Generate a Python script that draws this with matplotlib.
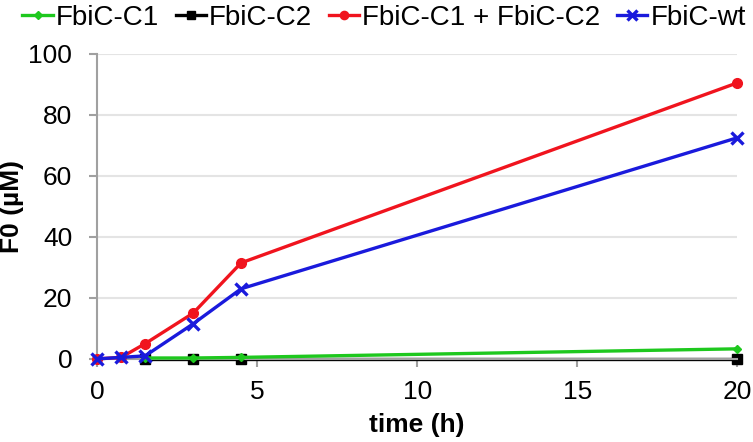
import matplotlib.pyplot as plt

plt.rcParams['font.family'] = ['Liberation Sans', 'DejaVu Sans']

# time points (h)
time = [0, 0.75, 1.5, 3, 4.5, 20]

# F0 (uM) for each construct
c1 = [0, 0, 0.3, 0.3, 0.5, 3.3]
c2 = [0, 0, 0, 0, 0, 0]
c1_c2 = [0, 0.5, 5, 15, 31.5, 90.5]
wt = [0, 0.5, 1, 11.5, 23, 72.5]

labels = ['FbiC-C1', 'FbiC-C2', 'FbiC-C1 + FbiC-C2', 'FbiC-wt']

fig = plt.figure(figsize=(7.53, 4.42), dpi=100)
ax = fig.add_axes([0.129, 0.188, 0.85, 0.69])

# light horizontal grid behind the data
ax.grid(axis='y', color='#e4e4e4', lw=1.5)
ax.set_axisbelow(True)

# plot each series
ax.plot(time[2:], c1[2:], color='#1ec81e', marker='D', markersize=4.5, lw=2.4, label=labels[0], zorder=3)
ax.plot(time[2:], c2[2:], color='black', marker='s', markersize=7, lw=2.4, label=labels[1], zorder=2)
ax.plot(time, c1_c2, color='#f0141e', marker='o', markersize=7, lw=2.4, label=labels[2], zorder=4)
ax.plot(time, wt, color='#1a1adc', marker='x', markersize=8.5, mew=2.4, lw=2.4, label=labels[3], zorder=5)

ax.set_xlim(0, 20)
ax.set_ylim(0, 100)
ax.set_xticks([0, 5, 10, 15, 20])
ax.set_yticks([0, 20, 40, 60, 80, 100])
ax.tick_params(axis='y', labelsize=19, length=6, width=1.5, color='#a0a0a0', pad=12)
ax.tick_params(axis='x', labelsize=19, length=6, width=1.5, color='#a0a0a0', pad=9)

for s in ['top', 'right']:
    ax.spines[s].set_visible(False)
ax.spines['left'].set_color('#a0a0a0')
ax.spines['left'].set_linewidth(1.5)
ax.spines['bottom'].set_color('#a0a0a0')
ax.spines['bottom'].set_linewidth(1.5)
for line in ax.lines:
    line.set_clip_on(False)

ax.set_xlabel('time (h)', fontsize=19, fontweight='bold', labelpad=7)
ax.set_ylabel('F0 (µM)', fontsize=19, fontweight='bold', labelpad=3)

fig.legend(loc='upper center', bbox_to_anchor=(0.51, 1.045), ncol=4, frameon=False,
           fontsize=20, handlelength=1.1, handletextpad=0.1, columnspacing=0.6, markerscale=0.85)

fig.savefig('out.png', dpi=100)
